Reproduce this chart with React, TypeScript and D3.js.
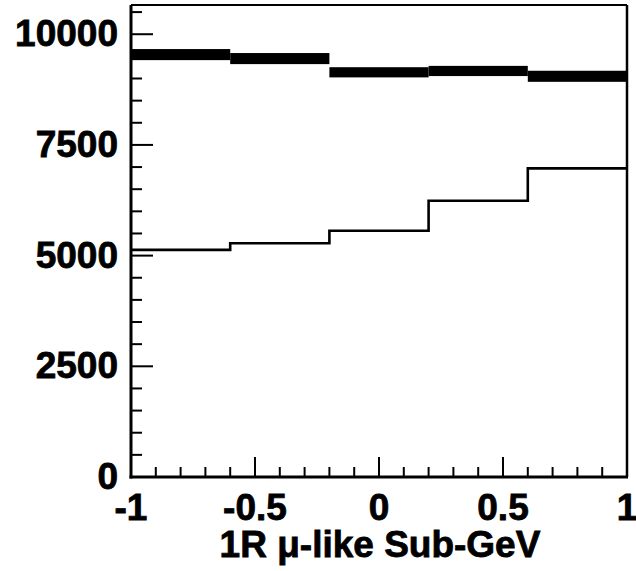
import React from "react";
import * as d3 from "d3";

const binEdges = [-1, -0.6, -0.2, 0.2, 0.6, 1];
const bandCenter = [9540, 9450, 9140, 9170, 9050];
const bandHalfWidth = [125, 125, 115, 115, 125];
const lineValues = [5130, 5280, 5560, 6240, 6970];
const xTickLabels = ["-1", "-0.5", "0", "0.5", "1"];
const xTickValues = [-1, -0.5, 0, 0.5, 1];
const yTickValues = [0, 2500, 5000, 7500, 10000];
const yTickLabels = ["0", "2500", "5000", "7500", "10000"];
const xLabel = "1R \u03bc-like Sub-GeV";

const W = 636;
const H = 571;
const left = 131;
const right = 627;
const top = 5;
const bottom = 477;

export default function App() {
  const x = d3.scaleLinear().domain([-1, 1]).range([left, right]);
  const y = d3.scaleLinear().domain([0, 10660]).range([bottom, top]);

  const xMinor = d3.range(-10, 11).map((i) => i / 10);
  const yMinor = d3.range(0, 10501, 500);

  const stepData: [number, number][] = [];
  lineValues.forEach((v, i) => {
    stepData.push([binEdges[i], v]);
    stepData.push([binEdges[i + 1], v]);
  });
  const line = d3
    .line<[number, number]>()
    .x((d) => x(d[0]))
    .y((d) => y(d[1]));

  const font = "'Liberation Sans', Arial, Helvetica, sans-serif";

  return (
    <svg
      width={W}
      height={H}
      style={{ position: "absolute", left: 0, top: 0, background: "#fff" }}
    >
      <rect x={0} y={0} width={W} height={H} fill="#fff" />
      {/* band */}
      {bandCenter.map((c, i) => (
        <rect
          key={"b" + i}
          x={x(binEdges[i])}
          width={x(binEdges[i + 1]) - x(binEdges[i])}
          y={y(c + bandHalfWidth[i])}
          height={y(c - bandHalfWidth[i]) - y(c + bandHalfWidth[i])}
          fill="#000"
        />
      ))}
      {/* step line */}
      <path d={line(stepData) || ""} fill="none" stroke="#000" strokeWidth={2.6} />
      {/* frame */}
      <line x1={left} x2={right} y1={top} y2={top} stroke="#000" strokeWidth={2} />
      <line x1={right} x2={right} y1={top} y2={bottom} stroke="#000" strokeWidth={2.5} />
      <line x1={left} x2={left} y1={top} y2={bottom + 1.5} stroke="#000" strokeWidth={3} />
      <line x1={left - 1.5} x2={right + 1} y1={bottom} y2={bottom} stroke="#000" strokeWidth={3} />
      {/* x ticks */}
      {xMinor.map((v, i) => {
        const major = Math.abs(v * 2 - Math.round(v * 2)) < 1e-6;
        return (
          <line
            key={"xt" + i}
            x1={x(v)}
            x2={x(v)}
            y1={bottom}
            y2={bottom - (major ? 20 : 10)}
            stroke="#000"
            strokeWidth={2}
          />
        );
      })}
      {/* y ticks */}
      {yMinor.map((v, i) => {
        const major = v % 2500 === 0;
        return (
          <line
            key={"yt" + i}
            x1={left}
            x2={left + (major ? 22 : 11)}
            y1={y(v)}
            y2={y(v)}
            stroke="#000"
            strokeWidth={2}
          />
        );
      })}
      {/* y labels */}
      {yTickValues.map((v, i) => (
        <text
          key={"yl" + i}
          x={118}
          y={y(v) + 12}
          textAnchor="end"
          fontFamily={font}
          fontWeight="bold"
          fontSize={37}
          fill="#000"
          stroke="#000"
          strokeWidth={0.8}
        >
          {yTickLabels[i]}
        </text>
      ))}
      {/* x labels */}
      {xTickValues.map((v, i) => (
        <text
          key={"xl" + i}
          x={x(v)}
          y={520}
          textAnchor="middle"
          fontFamily={font}
          fontWeight="bold"
          fontSize={37}
          fill="#000"
          stroke="#000"
          strokeWidth={0.8}
        >
          {xTickLabels[i]}
        </text>
      ))}
      <text
        x={380}
        y={557}
        textAnchor="middle"
        fontFamily={font}
        fontWeight="bold"
        fontSize={37}
        fill="#000"
        stroke="#000"
        strokeWidth={0.8}
      >
        {xLabel}
      </text>
    </svg>
  );
}
